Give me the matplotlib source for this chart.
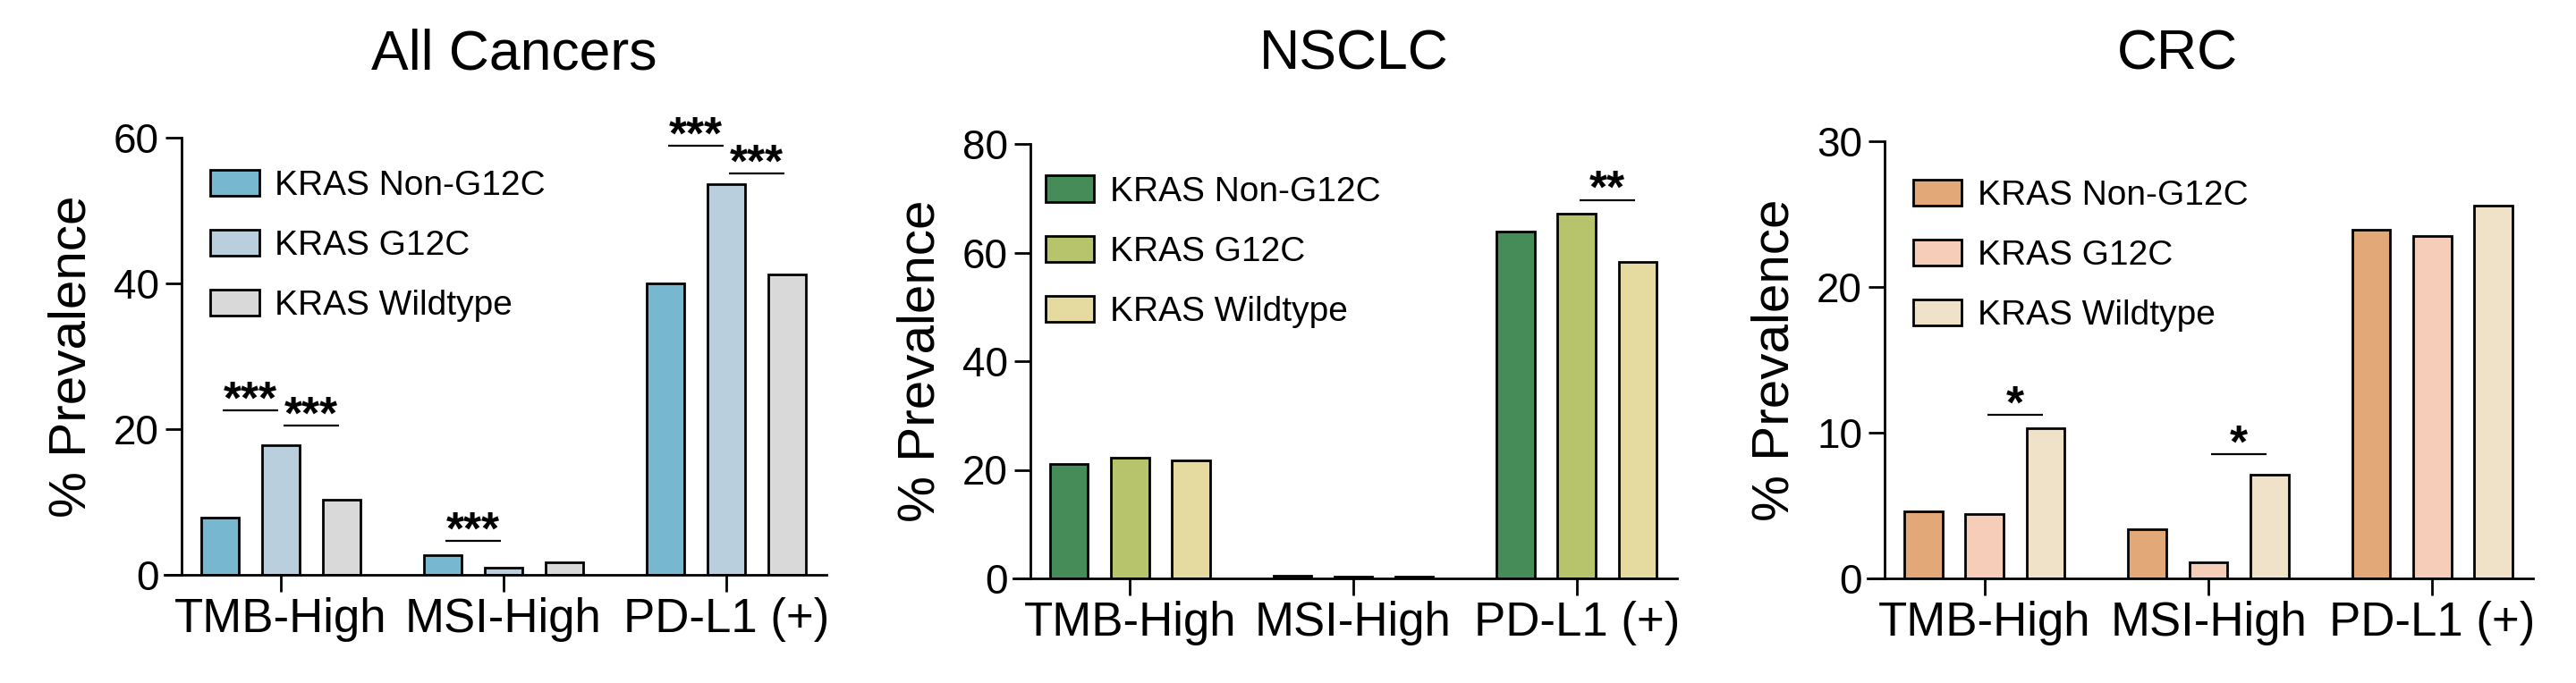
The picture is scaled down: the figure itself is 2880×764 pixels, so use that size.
"""KRAS 変異別の TMB-High / MSI-High / PD-L1 陽性率（All Cancers, NSCLC, CRC）。"""
import numpy as np
import matplotlib
matplotlib.use("Agg")
import matplotlib.pyplot as plt

plt.rcParams.update({"font.family": ["Liberation Sans", "DejaVu Sans"], "figure.dpi": 100})

CATEGORIES = ["TMB-High", "MSI-High", "PD-L1 (+)"]
SERIES = ["KRAS Non-G12C", "KRAS G12C", "KRAS Wildtype"]

ALL_NON_G12C = [7.9, 2.7, 40.0]
ALL_G12C = [17.8, 1.0, 53.6]
ALL_WT = [10.3, 1.7, 41.2]

NSCLC_NON_G12C = [21.0, 0.5, 63.8]
NSCLC_G12C = [22.2, 0.3, 67.1]
NSCLC_WT = [21.7, 0.3, 58.2]

CRC_NON_G12C = [4.6, 3.4, 23.9]
CRC_G12C = [4.4, 1.1, 23.5]
CRC_WT = [10.3, 7.1, 25.6]

# (category, bar a, bar b, line height, label)
ALL_SIG = [(0, 0, 1, 22.6, "***"), (0, 1, 2, 20.5, "***"), (1, 0, 1, 4.7, "***"),
           (2, 0, 1, 58.9, "***"), (2, 1, 2, 55.1, "***")]
NSCLC_SIG = [(2, 1, 2, 69.7, "**")]
CRC_SIG = [(0, 1, 2, 11.2, "*"), (1, 1, 2, 8.5, "*")]

ALL_COLORS = ["#78b7d0", "#b9cfdd", "#d9d9d9"]
NSCLC_COLORS = ["#468c59", "#b7c46c", "#e5dba0"]
CRC_COLORS = ["#e2a878", "#f5cdb9", "#efe2c9"]

W, H = 2880, 764
OFFSET, BAR_W = 0.273, 0.17


def px_axes(x0, x1, y_top, y_bot):
    return [x0 / W, (H - y_bot) / H, (x1 - x0) / W, (y_bot - y_top) / H]


def panel(fig, rect, title, title_x, series, colors, sig, ymax, step, legend_xy):
    ax = fig.add_axes(rect)
    x = np.arange(len(CATEGORIES))
    bars = []
    for k, (vals, col) in enumerate(zip(series, colors)):
        b = ax.bar(x + (k - 1) * OFFSET, vals, BAR_W, color=col, edgecolor="black",
                   linewidth=2, label=SERIES[k])
        bars.append(b)
    for cat, a, b, y, lab in sig:
        xa = cat + (a - 1) * OFFSET + 0.012
        xb = cat + (b - 1) * OFFSET - 0.012
        ax.plot([xa, xb], [y, y], color="black", lw=1.6, solid_capstyle="butt")
        ax.annotate(lab, ((xa + xb) / 2, y), xytext=(0, -2.5), textcoords="offset points",
                    ha="center", va="baseline", fontsize=37, fontweight="bold")
    ax.set_xlim(-0.522, 2.45)
    ax.set_ylim(0, ymax)
    ax.set_yticks(np.arange(0, ymax + 1, step))
    ax.set_xticks(x)
    ax.set_xticklabels(CATEGORIES, fontsize=38)
    ax.tick_params(axis="y", labelsize=33, length=13, width=2, pad=5)
    ax.tick_params(axis="x", length=14, width=2, pad=4)
    for s in ["top", "right"]:
        ax.spines[s].set_visible(False)
    ax.spines["left"].set_position(("data", -0.446))
    ax.spines["left"].set_linewidth(2)
    ax.spines["bottom"].set_linewidth(2)
    ax.set_ylabel("% Prevalence", fontsize=42, labelpad=14)
    ax.legend(handles=bars, loc="upper left", bbox_to_anchor=legend_xy, frameon=False,
              fontsize=28, handlelength=1.4, handleheight=0.78, handletextpad=0.45,
              labelspacing=0.8, borderpad=0, borderaxespad=0)
    fig.text(title_x / W, (H - 77) / H, title, fontsize=45, ha="center", va="baseline")
    return ax


def main():
    fig = plt.figure(figsize=(W / 100, H / 100), dpi=100)
    panel(fig, px_axes(184, 924, 154, 643), "All Cancers", 575,
          [ALL_NON_G12C, ALL_G12C, ALL_WT], ALL_COLORS, ALL_SIG, 60, 20, (0.069, 0.927))
    panel(fig, px_axes(1133, 1875, 161, 647), "NSCLC", 1514,
          [NSCLC_NON_G12C, NSCLC_G12C, NSCLC_WT], NSCLC_COLORS, NSCLC_SIG, 80, 20, (0.048, 0.927))
    panel(fig, px_axes(2088, 2832, 158, 647), "CRC", 2434,
          [CRC_NON_G12C, CRC_G12C, CRC_WT], CRC_COLORS, CRC_SIG, 30, 10, (0.068, 0.913))
    fig.savefig("out.png", dpi=100)
    plt.close(fig)


if __name__ == "__main__":
    main()
